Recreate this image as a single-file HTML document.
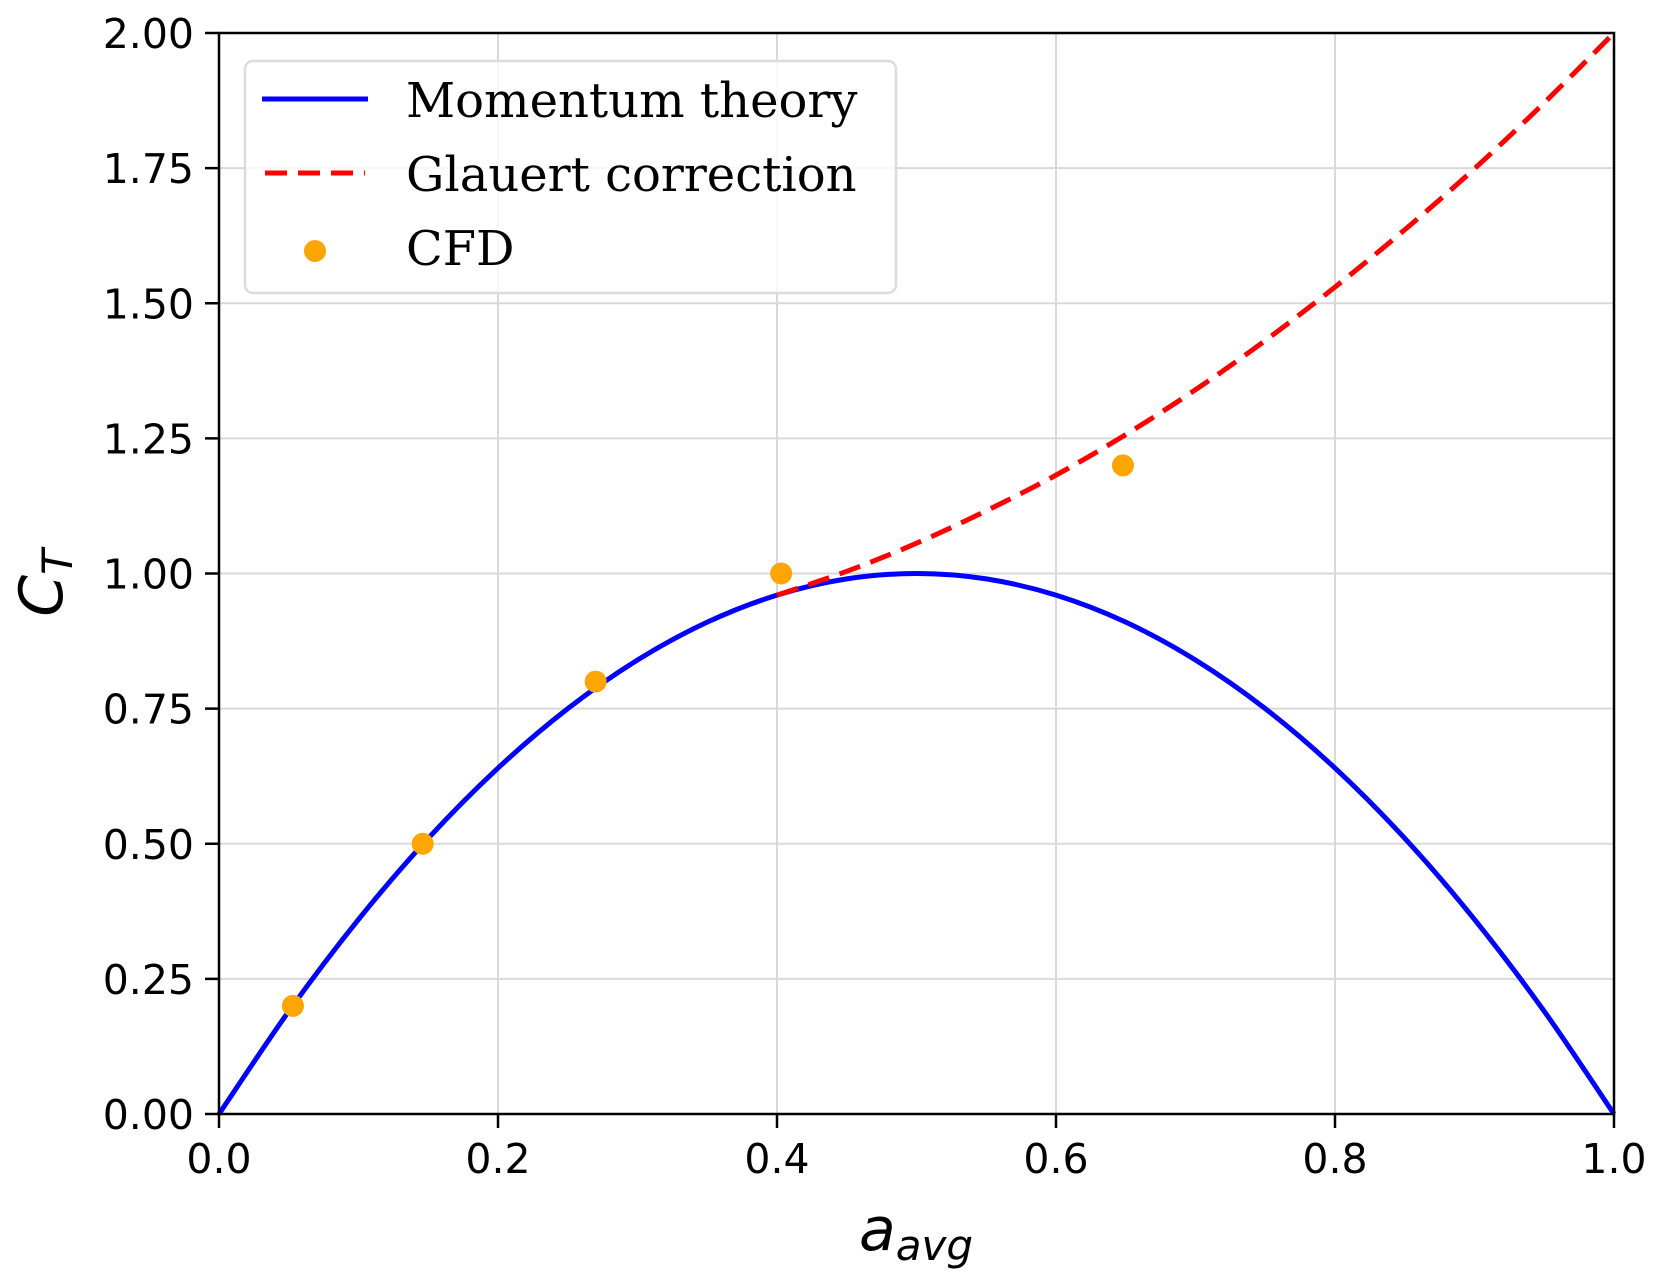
<!DOCTYPE html>
<html><head><meta charset="utf-8"><style>
html,body{margin:0;padding:0;background:#fff;}
svg{display:block;}
</style></head><body>
<svg id="chart" width="1663" height="1283" viewBox="0 0 1663 1283" xmlns="http://www.w3.org/2000/svg">
<rect width="1663" height="1283" fill="#fff"/>
<g id="grid"></g>
<g id="series"></g>
<g id="axes"></g>
<text x="916" y="1250" text-anchor="middle" font-family="DejaVu Sans, sans-serif" font-style="italic" font-size="60">a<tspan font-size="42" dy="10">avg</tspan></text>
<text transform="translate(62,583) rotate(-90)" text-anchor="middle" font-family="DejaVu Sans, sans-serif" font-style="italic" font-size="60">C<tspan font-size="42" dy="10">T</tspan></text>
<g>
<rect x="245" y="61" width="651" height="232" rx="8" fill="#fff" fill-opacity="0.8" stroke="#dcdcdc" stroke-width="2.5"/>
<line x1="262" y1="99" x2="368" y2="99" stroke="#0000ff" stroke-width="5"/>
<text x="406" y="117" font-family="DejaVu Serif, Liberation Serif, serif" font-size="48">Momentum theory</text>
<line x1="265" y1="173" x2="365" y2="173" stroke="#ff0000" stroke-width="5" stroke-dasharray="22,11"/>
<text x="406" y="191" font-family="DejaVu Serif, Liberation Serif, serif" font-size="48">Glauert correction</text>
<circle cx="315" cy="251" r="11" fill="#ffa500"/>
<text x="406" y="265" font-family="DejaVu Serif, Liberation Serif, serif" font-size="48">CFD</text>
</g>
</svg>
<script>
const xTicks=[0,0.2,0.4,0.6,0.8,1.0];
const xTickLabels=["0.0","0.2","0.4","0.6","0.8","1.0"];
const yTicks=[0,0.25,0.5,0.75,1.0,1.25,1.5,1.75,2.0];
const yTickLabels=["0.00","0.25","0.50","0.75","1.00","1.25","1.50","1.75","2.00"];
const momentumA=[0,0.05,0.1,0.15,0.2,0.25,0.3,0.35,0.4,0.45,0.5,0.55,0.6,0.65,0.7,0.75,0.8,0.85,0.9,0.95,1.0];
const momentumCT=[0,0.19,0.36,0.51,0.64,0.75,0.84,0.91,0.96,0.99,1.0,0.99,0.96,0.91,0.84,0.75,0.64,0.51,0.36,0.19,0];
const glauertA=[0.4,0.45,0.5,0.55,0.6,0.65,0.7,0.75,0.8,0.85,0.9,0.95,1.0];
const glauertCT=[0.960,1.004,1.056,1.116,1.182,1.257,1.340,1.431,1.530,1.636,1.749,1.871,2.0];
const cfdA=[0.053,0.146,0.27,0.403,0.648];
const cfdCT=[0.2,0.5,0.8,1.0,1.2];

const X0=219,X1=1614,Y0=1114,Y1=33;
function sx(v){return X0+(v-0)/(1-0)*(X1-X0);}
function sy(v){return Y0-(v-0)/(2-0)*(Y0-Y1);}
const NS="http://www.w3.org/2000/svg";
function mk(tag,attrs,parent){const e=document.createElementNS(NS,tag);for(const k in attrs)e.setAttribute(k,attrs[k]);parent.appendChild(e);return e;}
function smooth(xs,ys){
  const p=xs.map((x,i)=>[sx(x),sy(ys[i])]);
  let d='M'+p[0][0]+','+p[0][1];
  for(let i=0;i<p.length-1;i++){
    const p0=p[Math.max(0,i-1)],p1=p[i],p2=p[i+1],p3=p[Math.min(p.length-1,i+2)];
    const c1=[p1[0]+(p2[0]-p0[0])/6,p1[1]+(p2[1]-p0[1])/6];
    const c2=[p2[0]-(p3[0]-p1[0])/6,p2[1]-(p3[1]-p1[1])/6];
    d+=' C'+c1[0]+','+c1[1]+' '+c2[0]+','+c2[1]+' '+p2[0]+','+p2[1];
  }
  return d;
}
const grid=document.getElementById('grid'),series=document.getElementById('series'),axes=document.getElementById('axes');

xTicks.forEach((t,i)=>{
  const g=mk('line',{x1:sx(t),x2:sx(t),y1:Y1,y2:Y0,stroke:'#d9d9d9','stroke-width':2},grid);
  
  
  const tk=mk('line',{x1:sx(t),x2:sx(t),y1:Y0,y2:Y0+14,stroke:'#000','stroke-width':2.5},axes);
  
  
  const tx=mk('text',{x:sx(t),y:Y0+59,'text-anchor':'middle','font-family':'DejaVu Sans, Liberation Sans, sans-serif','font-size':41},axes);
  tx.textContent=xTickLabels[i];
  
  
});
yTicks.forEach((t,i)=>{
  const g=mk('line',{x1:X0,x2:X1,y1:sy(t),y2:sy(t),stroke:'#d9d9d9','stroke-width':2},grid);
  
  
  const tk=mk('line',{x1:X0-14,x2:X0,y1:sy(t),y2:sy(t),stroke:'#000','stroke-width':2.5},axes);
  
  
  const tx=mk('text',{x:X0-25,y:sy(t)+15,'text-anchor':'end','font-family':'DejaVu Sans, Liberation Sans, sans-serif','font-size':41},axes);
  tx.textContent=yTickLabels[i];
  
  
});
const frame=mk('rect',{x:X0,y:Y1,width:X1-X0,height:Y0-Y1,fill:'none',stroke:'#000','stroke-width':2.5},axes);



const mp=mk('path',{d:smooth(momentumA,momentumCT),fill:'none',stroke:'#0000ff','stroke-width':5},series);


const gp=mk('path',{d:smooth(glauertA,glauertCT),fill:'none',stroke:'#ff0000','stroke-width':5,'stroke-dasharray':'22,11'},series);


cfdA.forEach((a,i)=>{
  const c=mk('circle',{cx:sx(a),cy:sy(cfdCT[i]),r:11,fill:'#ffa500'},series);
  
  
});
</script>
</body></html>
